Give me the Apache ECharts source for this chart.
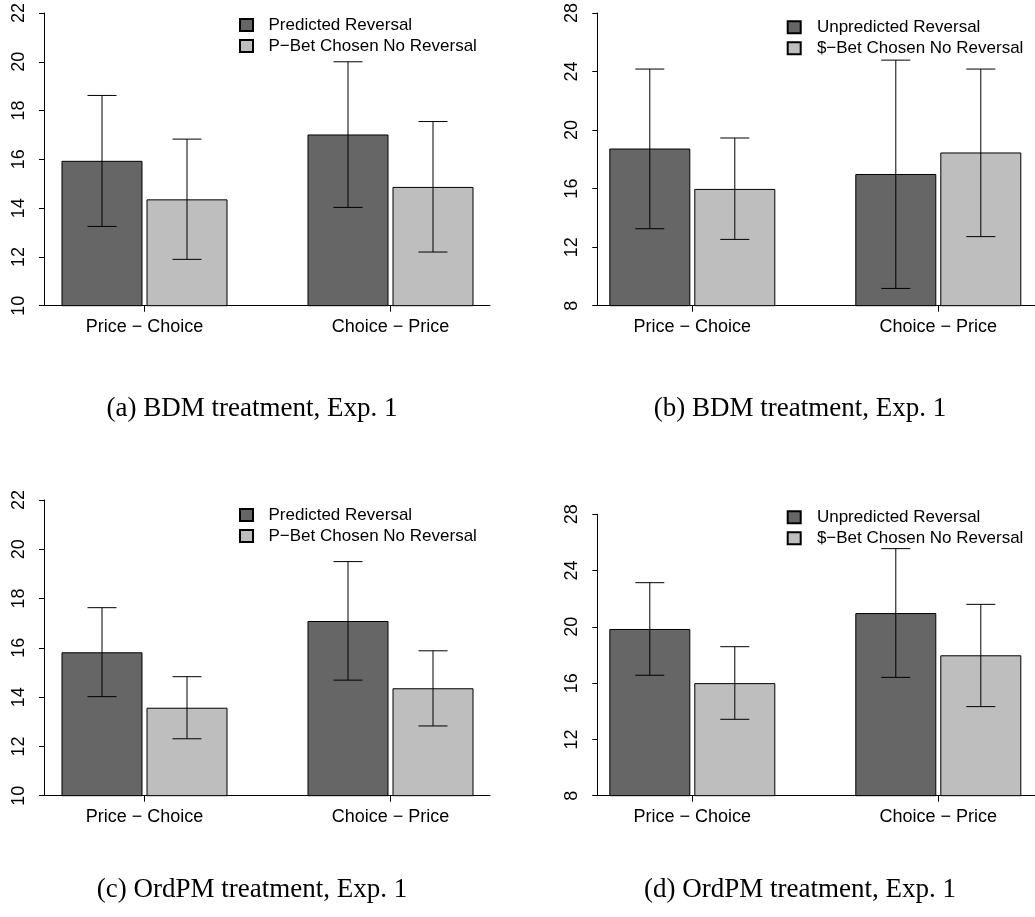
<!DOCTYPE html>
<html>
<head>
<meta charset="utf-8">
<script src="https://cdn.jsdelivr.net/npm/echarts@6/dist/echarts.min.js"></script>
<style>
  html, body { margin: 0; padding: 0; background: #ffffff; }
  #chart { width: 1035px; height: 917px; }
</style>
</head>
<body>
<div id="chart"></div>
<script>
// Group labels on the x axis
const categories = ['Price − Choice', 'Choice − Price'];

// Legend names
const namesP = ['Predicted Reversal', 'P−Bet Chosen No Reversal'];
const namesU = ['Unpredicted Reversal', '$−Bet Chosen No Reversal'];

// (a) BDM treatment: means with lower / upper error limits
const aPred = [15.94, 17.02], aPredLo = [13.25, 14.03], aPredHi = [18.62, 20.00];
const aPbet = [14.36, 14.87], aPbetLo = [11.90, 12.20], aPbetHi = [16.83, 17.55];

// (b) BDM treatment
const bUnpred = [18.74, 17.00], bUnpredLo = [13.26, 9.18], bUnpredHi = [24.17, 24.78];
const bDbet = [15.98, 18.47], bDbetLo = [12.53, 12.72], bDbetHi = [19.46, 24.17];

// (c) OrdPM treatment
const cPred = [15.82, 17.09], cPredLo = [14.02, 14.69], cPredHi = [17.63, 19.50];
const cPbet = [13.57, 14.36], cPbetLo = [12.31, 12.83], cPbetHi = [14.83, 15.88];

// (d) OrdPM treatment
const dUnpred = [19.85, 20.98], dUnpredLo = [16.56, 16.41], dUnpredHi = [23.14, 25.56];
const dDbet = [16.00, 17.98], dDbetLo = [13.43, 14.33], dDbetHi = [18.59, 21.60];

// Y axis ranges (min, max, step) per panel
const yA = [10, 22, 2], yB = [8, 28, 4], yC = [10, 22, 2], yD = [8, 28, 4];

// Captions
const captions = ['(a) BDM treatment, Exp. 1', '(b) BDM treatment, Exp. 1',
                  '(c) OrdPM treatment, Exp. 1', '(d) OrdPM treatment, Exp. 1'];

// ---- layout (pixels) ----
const DARK = '#666666', LIGHT = '#BEBEBE';
const SANS = '"Liberation Sans", Arial, Helvetica, sans-serif';
const BAR_W = 81, BAR_GAP = 4, CAP = 14.5;
const GROUP_STEP = 246;            // distance between group centres
const layouts = [
  { left: 41,  right: 490,  axisX: 44,    center0: 144.5, top: 10,    bottom: 305.7, legL: 239,   legT: 16.5, legPad: 10.5 },
  { left: 593, right: 1035, axisX: 597.3, center0: 692.3, top: 10,    bottom: 305.7, legL: 786.7, legT: 18.7, legPad: 11.2 },
  { left: 41,  right: 490,  axisX: 44,    center0: 144.5, top: 500,   bottom: 795.7, legL: 239,   legT: 506.5, legPad: 10.5 },
  { left: 593, right: 1035, axisX: 597.3, center0: 692.3, top: 514.3, bottom: 795.7, legL: 786.7, legT: 508.8, legPad: 11.2 }
];
const captionPos = [[252, 409], [800, 409], [252, 890], [800, 890]];

const panels = [
  { names: namesP, y: yA, s: [[aPred, aPredLo, aPredHi], [aPbet, aPbetLo, aPbetHi]] },
  { names: namesU, y: yB, s: [[bUnpred, bUnpredLo, bUnpredHi], [bDbet, bDbetLo, bDbetHi]] },
  { names: namesP, y: yC, s: [[cPred, cPredLo, cPredHi], [cPbet, cPbetLo, cPbetHi]] },
  { names: namesU, y: yD, s: [[dUnpred, dUnpredLo, dUnpredHi], [dDbet, dDbetLo, dDbetHi]] }
];

const grid = [], xAxis = [], yAxis = [], series = [], legend = [], graphic = [];

panels.forEach((p, i) => {
  const L = layouts[i];
  grid.push({ left: L.left, top: L.top, width: L.right - L.left, height: L.bottom - L.top });

  xAxis.push({
    gridIndex: i, type: 'value',
    min: (L.left - L.center0) / GROUP_STEP,
    max: (L.right - L.center0) / GROUP_STEP,
    axisLine: { show: true, onZero: false, lineStyle: { color: '#000', width: 1 } },
    axisTick: { show: true, length: 6, customValues: [0, 1], lineStyle: { color: '#000' } },
    axisLabel: { show: true, customValues: [0, 1], margin: 12, color: '#000', fontSize: 18, fontFamily: SANS,
                 formatter: v => categories[Math.round(v)] },
    splitLine: { show: false }
  });

  yAxis.push({
    gridIndex: i, type: 'value', min: p.y[0], max: p.y[1], interval: p.y[2],
    offset: -(L.axisX - L.left),
    axisLine: { show: true, onZero: false, lineStyle: { color: '#000', width: 1 } },
    axisTick: { show: true, length: 5, lineStyle: { color: '#000' } },
    axisLabel: { rotate: 90, margin: 16, color: '#000', fontSize: 18, fontFamily: SANS },
    splitLine: { show: false }
  });

  p.s.forEach((trip, j) => {
    const [vals, lo, hi] = trip;
    series.push({
      type: 'bar', name: p.names[j], xAxisIndex: i, yAxisIndex: i,
      data: vals.map((v, k) => [k, v]),
      barWidth: BAR_W, barGap: (BAR_GAP / BAR_W * 100).toFixed(2) + '%',
      itemStyle: { color: j === 0 ? DARK : LIGHT, borderColor: '#000', borderWidth: 1 },
      emphasis: { disabled: true }, silent: true, z: 2
    });
    const sign = j === 0 ? -1 : 1;
    series.push({
      type: 'custom', name: 'errorbar-' + i + '-' + j, xAxisIndex: i, yAxisIndex: i,
      data: vals.map((v, k) => [k, lo[k], hi[k]]),
      encode: { x: 0, y: [1, 2] },
      silent: true, z: 5,
      renderItem: (params, api) => {
        const off = sign * (BAR_W + BAR_GAP) / 2;
        const a = api.coord([api.value(0), api.value(1)]);
        const b = api.coord([api.value(0), api.value(2)]);
        const x = a[0] + off;
        const st = { stroke: '#000', lineWidth: 1 };
        return { type: 'group', children: [
          { type: 'line', shape: { x1: x, y1: a[1], x2: x, y2: b[1] }, style: st },
          { type: 'line', shape: { x1: x - CAP, y1: a[1], x2: x + CAP, y2: a[1] }, style: st },
          { type: 'line', shape: { x1: x - CAP, y1: b[1], x2: x + CAP, y2: b[1] }, style: st }
        ]};
      }
    });
  });

  legend.push({
    data: p.names, orient: 'vertical', left: L.legL, top: L.legT,
    itemWidth: 13, itemHeight: 12, itemGap: 4, icon: 'rect', selectedMode: false,
    padding: 0,
    textStyle: { color: '#000', fontSize: 17, fontFamily: SANS, lineHeight: 17, padding: [0, 0, 0, L.legPad] }
  });

  graphic.push({
    type: 'text', x: captionPos[i][0], y: captionPos[i][1],
    style: { text: captions[i], fill: '#000', font: '27px "Liberation Serif", "Times New Roman", serif',
             textAlign: 'center', textVerticalAlign: 'middle' }
  });
});

const chart = echarts.init(document.getElementById('chart'), null, { renderer: 'canvas' });
chart.setOption({
  animation: false,
  backgroundColor: '#ffffff',
  grid, xAxis, yAxis, series, legend, graphic
});
</script>
</body>
</html>
